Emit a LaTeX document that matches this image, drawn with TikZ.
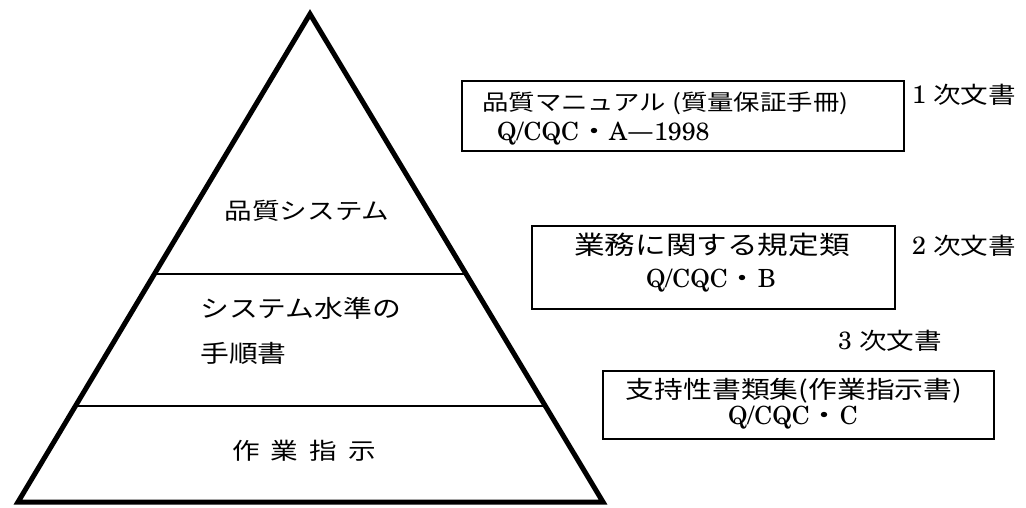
\documentclass[tikz,border=0pt]{standalone}
\usepackage{fontspec}
\newfontfamily\jp{Noto Sans CJK JP}[FakeStretch=1.2]
\setmainfont{texgyreschola-regular.otf}
\usetikzlibrary{calc}
\begin{document}
\begin{tikzpicture}[x=1pt,y=-1pt,
  box/.style={draw, line width=1.6pt, inner sep=0pt, anchor=north west},
  tri/.style={line width=5pt, line join=miter},
  sep/.style={line width=1.6pt},
  jt/.style={inner sep=0pt, anchor=base, font=\jp\fontsize{23}{28}\selectfont},
  lt/.style={inner sep=0pt, anchor=base, font=\fontsize{25}{28}\selectfont}]
\useasboundingbox (0,0) rectangle (1026,508);
% pyramid
\coordinate (apex) at (310,14);
\coordinate (bl) at (18,502);
\coordinate (br) at (603,502);
\draw[tri] (apex) -- (br) -- (bl) -- cycle;
\coordinate (s1l) at ($(apex)!0.5328!(bl)$);
\coordinate (s1r) at ($(apex)!0.5328!(br)$);
\coordinate (s2l) at ($(apex)!0.8033!(bl)$);
\coordinate (s2r) at ($(apex)!0.8033!(br)$);
\draw[sep] (s1l) -- (s1r);
\draw[sep] (s2l) -- (s2r);
\node[jt] (p1) at (307,219) {品質システム};
\node[jt, anchor=base west, font=\jp\fontsize{24}{28}\selectfont] (p2a) at (200,317) {システム水準の};
\node[jt, anchor=base west, font=\jp\fontsize{24}{28}\selectfont] (p2b) at (200,362) {手順書};
\node[jt] (p3) at (304,459) {作\hspace{11pt}業\hspace{11pt}指\hspace{11pt}示};
% boxes
\node[box, minimum width=442pt, minimum height=70pt] (b1) at (461,80) {};
\node[box, minimum width=363pt, minimum height=83pt] (b2) at (531,225) {};
\node[box, minimum width=391pt, minimum height=68pt] (b3) at (602,370) {};
% box texts
\node[jt, anchor=base west, font=\jp\fontsize{22}{28}\selectfont] (b1a) at (482,111) {品質マニュアル (質量保証手冊)};
\node[lt, anchor=base west] (b1b) at (497,141) {Q/CQC{\jp ・}A{\jp —}1998};
\node[jt, font=\jp\fontsize{25.5}{28}\selectfont] (b2a) at (712,254) {業務に関する規定類};
\node[lt] (b2b) at (711,287) {Q/CQC{\jp ・}B};
\node[jt, font=\jp\fontsize{24}{28}\selectfont] (b3a) at (794,398) {支持性書類集(作業指示書)};
\node[lt] (b3b) at (793,424) {Q/CQC{\jp ・}C};
% side labels
\node[lt, anchor=base west] (l1) at (912,104) {1\hspace{7pt}{\jp\fontsize{23}{28}\selectfont 次文書}};
\node[lt, anchor=base west] (l2) at (912,254) {2\hspace{7pt}{\jp\fontsize{23}{28}\selectfont 次文書}};
\node[lt, anchor=base west] (l3) at (838,349) {3\hspace{7pt}{\jp\fontsize{23}{28}\selectfont 次文書}};
\end{tikzpicture}
\end{document}
